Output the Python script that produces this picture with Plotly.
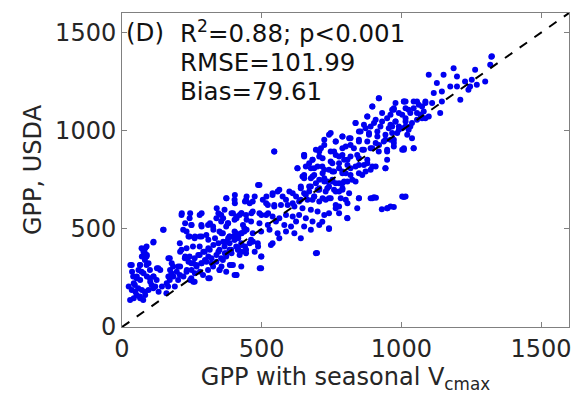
import plotly.graph_objects as go

# GPP with seasonal Vcmax (x) vs GPP, USDA (y)
gpp_model = [
    147,112,76,82,88,35,64,70,40,52,46,58,35,52,29,64,76,82,100,112,124,106,112,130,100,88,82,70,88,
    171,183,177,171,165,159,189,201,207,213,219,213,242,278,284,248,231,242,260,278,302,308,326,338,355,
    349,373,385,403,409,427,207,231,254,278,242,260,278,296,314,248,266,284,302,320,338,349,367,385,403,
    415,427,438,231,248,260,290,308,326,338,355,373,391,409,427,314,349,373,397,409,427,444,201,225,
    545,652,706,765,670,700,753,795,628,652,682,718,741,777,801,694,724,753,777,807,676,706,735,765,789,
    492,563,539,575,599,623,652,634,664,688,706,741,765,801,777,741,807,373,403,444,468,504,522,545,569,
    593,617,646,676,700,724,367,397,421,444,468,492,516,539,563,587,611,634,658,682,706,355,379,403,433,
    462,492,522,551,581,605,623,652,676,741,361,385,409,438,468,498,528,557,587,617,640,373,403,427,462,
    486,539,563,385,415,444,498,533,694,361,391,427,349,403,498,421,373,
    919,896,979,1015,1044,1062,1086,931,967,991,1026,1056,1080,878,908,949,979,1015,1038,1074,836,866,
    890,925,955,991,1026,854,884,914,943,967,747,789,818,848,878,908,937,973,1003,1044,765,724,801,830,
    860,890,919,949,694,759,789,818,848,878,949,652,682,718,747,777,807,836,866,896,943,658,688,724,753,
    789,818,848,872,646,676,706,735,765,795,824,640,670,700,729,759,789,658,688,718,747,783,848,890,902,
    1003,813,949,765,842,
    1324,1318,1187,1264,1098,1151,1199,1300,1127,1228,1252,1175,1199,1246,1270,1116,1145,1240,1211,1056,
    1086,1110,1145,1009,1139,973,1015,1044,1074,1003,1032,1068,1098,961,979,1015,1056,1086,967,1003,1032,
    985,1021,1038,961,973,1009,1044,
    1322,930,950,973,698,741,806,717,909,1009,
    83,77,71,89,30,65,95,36,59,77,53,89,24,42,65,101,48,71,95,42,65,83,113,125,137,113,149,119,143,131,
    166,178,172,166,160,184,196,208,208,226,238,255,267,285,297,309,261,279,244,255,220,232,249,273,291,
    309,327,345,362,380,398,416,428,446,469,487,499,493,475,321,356,386,410,309,345,368,392,416,440,457,
    214,244,285,226,249,285,315,345,339,362,380,392,410,428,446,463,374,404,404,440,457,475,446,487,517,
    523,499,327,356,261,238,285,309,333,
    920,1009,973,896,878,836,741,789,813,848,872,902,931,961,991,1015,1009,973,943,914,884,848,818,789,
    765,724,712,706,747,777,807,842,866,896,920,949,943,908,878,848,818,789,759,717,682,652,676,628,652,
    688,724,753,789,836,860,890,706,741,777,640,670,611,587,557,539,516,545,611,640,682,729,777,807,848,
    896,1015,961,545,
]
gpp_usda = [
    495,430,393,376,359,316,316,282,257,248,214,197,189,163,138,155,138,180,248,257,240,214,197,299,291,316,342,401,410,
    350,308,274,240,206,172,206,240,265,393,495,571,554,571,520,520,486,461,452,461,469,520,512,554,571,
    486,512,461,486,563,580,427,401,410,410,359,350,367,384,393,325,316,325,333,350,367,393,410,427,444,
    461,478,503,282,248,231,265,291,308,333,350,376,393,410,427,248,291,282,316,265,384,393,308,350,
    894,877,894,877,835,818,835,852,809,775,767,784,801,809,784,733,741,750,733,741,716,699,707,690,699,
    724,699,682,665,690,665,682,639,648,665,639,656,622,648,580,580,554,656,648,648,639,648,622,614,622,
    622,614,605,597,588,571,597,580,571,571,588,580,571,563,554,571,563,571,554,537,520,537,529,546,520,
    537,529,520,537,520,512,537,512,495,503,478,461,478,486,478,486,495,478,486,478,452,435,444,418,444,
    427,427,452,393,393,376,359,418,376,342,316,308,291,265,299,367,359,
    1166,1124,1141,1149,1149,1132,1141,1090,1107,1090,1107,1090,1098,1073,1056,1064,1047,1064,1039,1064,1039,1030,
    1022,1022,1013,1022,1005,996,988,996,979,988,988,971,962,954,945,937,945,954,903,911,945,928,920,911,
    903,911,894,894,903,894,877,869,860,852,852,877,852,860,843,835,826,818,826,818,809,818,809,801,792,
    784,775,784,792,767,758,750,741,733,741,750,707,716,699,690,699,707,673,665,656,656,656,656,656,661,
    665,682,605,605,605,
    1379,1336,1319,1311,1285,1285,1277,1251,1243,1251,1260,1226,1226,1226,1234,1192,1200,1209,1158,1149,
    1149,1141,1149,1149,1090,1115,1115,1115,1124,1081,1090,1081,1073,1081,1047,1047,1056,1064,1022,1013,1022,
    988,979,962,954,920,911,911,
    1377,600,605,612,377,500,556,536,658,663,
    401,384,359,367,316,316,325,282,291,274,257,257,206,223,240,231,180,189,189,146,146,163,257,299,291,435,495,206,206,180,
    350,325,291,257,223,257,282,308,384,359,333,325,308,325,342,359,274,282,240,231,257,291,291,367,384,
    401,418,427,435,452,461,452,478,495,435,410,359,299,384,325,308,316,265,248,384,376,376,393,410,427,
    580,580,580,529,520,512,529,580,605,554,529,580,554,580,546,580,656,673,631,639,631,665,665,724,665,
    580,571,495,478,461,461,461,444,452,
    1166,1149,1107,1124,1073,1039,979,971,962,996,1013,1039,1047,1030,1005,1022,903,937,954,971,979,945,928,911,
    945,954,911,869,894,869,852,877,903,911,928,903,809,818,835,826,809,792,792,818,852,869,809,809,758,
    775,758,741,733,741,775,801,707,716,690,716,690,682,648,690,673,631,622,631,648,648,648,614,631,656,
    656,665,614,894,
]
one_to_one = [0, 1600]
x_ticks = [0, 500, 1000, 1500]
y_ticks = [0, 500, 1000, 1500]

FONT = "DejaVu Sans"
fig = go.Figure()
fig.add_trace(go.Scatter(x=gpp_model, y=gpp_usda, mode="markers",
                         marker=dict(color="#0000f0", size=6, line=dict(width=0)),
                         showlegend=False, hoverinfo="skip"))
fig.add_trace(go.Scatter(x=one_to_one, y=one_to_one, mode="lines",
                         line=dict(color="black", width=2, dash="dash"),
                         showlegend=False, hoverinfo="skip"))

axis_common = dict(showgrid=False, zeroline=False, showline=True, mirror="ticks",
                   linecolor="#808080", linewidth=1, ticks="inside", ticklen=5,
                   tickcolor="#808080", tickfont=dict(family=FONT, size=24, color="#262626"))
fig.update_xaxes(range=[0, 1600], tickvals=x_ticks, ticktext=[str(v) for v in x_ticks],
                 title=dict(text="GPP with seasonal V<sub>cmax</sub>",
                            font=dict(family=FONT, size=24, color="#262626"), standoff=2),
                 **axis_common)
fig.update_yaxes(range=[0, 1600], tickvals=y_ticks, ticktext=[str(v) for v in y_ticks],
                 title=dict(text="GPP, USDA", font=dict(family=FONT, size=24, color="#262626"),
                            standoff=6),
                 **axis_common)

ann_font = dict(family=FONT, size=24.5, color="#111111")
fig.add_annotation(x=8, y=1500, xref="x", yref="y", text="(D)", showarrow=False,
                   xanchor="left", yanchor="middle", font=ann_font)
fig.add_annotation(x=200, y=1502, xref="x", yref="y", text="R<sup>2</sup>=0.88; p<0.001",
                   showarrow=False, xanchor="left", yanchor="middle", font=ann_font)
fig.add_annotation(x=200, y=1346, xref="x", yref="y", text="RMSE=101.99",
                   showarrow=False, xanchor="left", yanchor="middle", font=ann_font)
fig.add_annotation(x=200, y=1202, xref="x", yref="y", text="Bias=79.61",
                   showarrow=False, xanchor="left", yanchor="middle", font=ann_font)

fig.update_layout(width=574, height=401, margin=dict(l=122, r=3, t=13, b=74),
                  plot_bgcolor="white", paper_bgcolor="white")
fig.write_html("out.html")
